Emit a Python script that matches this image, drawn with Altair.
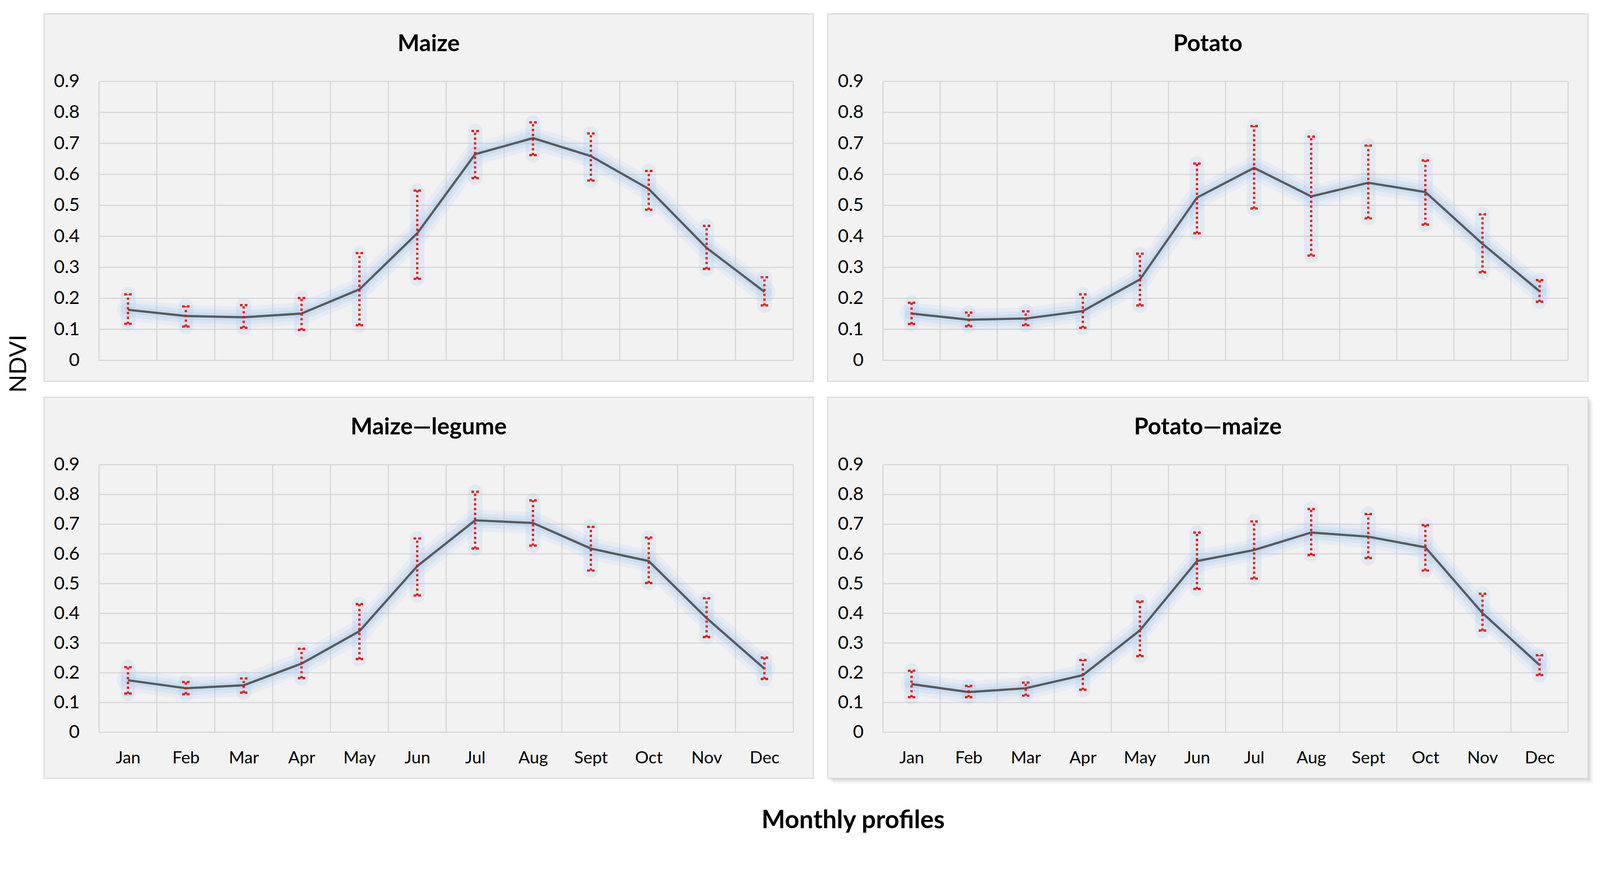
import json
import altair as alt
import pandas as pd

# ---------------- data ----------------
months = ["Jan", "Feb", "Mar", "Apr", "May", "Jun", "Jul", "Aug", "Sept", "Oct", "Nov", "Dec"]
y_ticks = [0, 0.1, 0.2, 0.3, 0.4, 0.5, 0.6, 0.7, 0.8, 0.9]
month_edges = [0, 1, 2, 3, 4, 5, 6, 7, 8, 9, 10, 11, 12]

maize_mean = [0.163, 0.143, 0.139, 0.151, 0.229, 0.410, 0.665, 0.717, 0.659, 0.553, 0.363, 0.221]
maize_low = [0.118, 0.109, 0.105, 0.098, 0.113, 0.263, 0.588, 0.662, 0.580, 0.486, 0.295, 0.177]
maize_high = [0.213, 0.174, 0.178, 0.201, 0.346, 0.548, 0.740, 0.768, 0.732, 0.611, 0.434, 0.268]

potato_mean = [0.151, 0.131, 0.135, 0.159, 0.261, 0.525, 0.621, 0.529, 0.573, 0.543, 0.376, 0.223]
potato_low = [0.117, 0.110, 0.113, 0.105, 0.177, 0.410, 0.490, 0.338, 0.458, 0.438, 0.284, 0.189]
potato_high = [0.186, 0.154, 0.158, 0.213, 0.344, 0.635, 0.756, 0.722, 0.693, 0.645, 0.471, 0.259]

ml_mean = [0.175, 0.148, 0.158, 0.231, 0.340, 0.559, 0.713, 0.704, 0.618, 0.576, 0.384, 0.214]
ml_low = [0.130, 0.128, 0.133, 0.182, 0.246, 0.460, 0.618, 0.628, 0.544, 0.502, 0.320, 0.179]
ml_high = [0.219, 0.169, 0.181, 0.281, 0.431, 0.652, 0.809, 0.780, 0.691, 0.655, 0.451, 0.251]

pm_mean = [0.162, 0.135, 0.148, 0.192, 0.343, 0.576, 0.613, 0.672, 0.658, 0.622, 0.401, 0.226]
pm_low = [0.118, 0.118, 0.123, 0.143, 0.256, 0.482, 0.517, 0.596, 0.586, 0.544, 0.342, 0.192]
pm_high = [0.207, 0.156, 0.167, 0.243, 0.440, 0.672, 0.709, 0.751, 0.734, 0.697, 0.466, 0.259]

y_title = "NDVI"
x_title = "Monthly profiles"

# ---------------- styling ----------------
FONT = "Lato"
RED = "#ff0000"
LINE = "#595959"
GLOW = "#a6cbef"
GRID = "#d6d6d6"
PANEL_BG = "#f2f2f2"
PANEL_EDGE = "#d9d9d9"

label_expr = json.dumps(months) + "[floor(datum.value)]"


def make_panel(title, mean, low, high, width, height, pad_l, pad_r, pad_t, pad_b,
               show_months, extra_text=None, shadow=False):
    df = pd.DataFrame({
        "pos": [i + 0.5 for i in range(len(months))],
        "month": months,
        "ndvi": mean,
        "low": low,
        "high": high,
    })
    xscale = alt.Scale(domain=[0, len(months)], nice=False, zero=False)
    yscale = alt.Scale(domain=[0, 0.9], nice=False, zero=True)
    if show_months:
        xaxis = alt.Axis(values=[i + 0.5 for i in range(len(months))], labelExpr=label_expr,
                         title=None, grid=False, domain=False, ticks=False, tickSize=0,
                         labelPadding=48, labelFont=FONT, labelFontSize=46, labelColor="#000000",
                         labelOverlap=False, labelFlush=False, zindex=1)
    else:
        xaxis = None
    yaxis = alt.Axis(values=y_ticks,
                     labelExpr="datum.value == 0 ? '0' : format(datum.value, '.1f')",
                     title=None, grid=False, domain=False, ticks=False, tickSize=0,
                     labelPadding=53, labelFont=FONT, labelFontSize=50, labelColor="#000000",
                     labelOverlap=False, labelFlush=False, zindex=1)

    deco = alt.Chart(alt.Data(values=[{"panel": title}]))
    layers = []
    if shadow:
        for off, op in [(14, 0.10), (9, 0.14), (5, 0.18)]:
            layers.append(deco.mark_rect(fill="#9a9a9a", opacity=op).encode(
                x=alt.value(-pad_l + off), x2=alt.value(width + pad_r + off),
                y=alt.value(-pad_t + off), y2=alt.value(height + pad_b + off)))
    box = deco.mark_rect(fill=PANEL_BG, stroke=PANEL_EDGE, strokeWidth=3).encode(
        x=alt.value(-pad_l), x2=alt.value(width + pad_r),
        y=alt.value(-pad_t), y2=alt.value(height + pad_b),
    )
    heading = deco.mark_text(font=FONT, fontSize=63, fontWeight="bold", color="#000000",
                             align="center", baseline="alphabetic").encode(
        text=alt.Text("panel:N"),
        x=alt.value(width / 2 + (pad_r - pad_l) / 2),
        y=alt.value(-82),
    )
    hgrid = alt.Chart(pd.DataFrame({"tick": y_ticks})).mark_rule(
        color=GRID, strokeWidth=3
    ).encode(y=alt.Y("tick:Q", scale=yscale, axis=yaxis))
    vgrid = alt.Chart(pd.DataFrame({"edge": month_edges})).mark_rule(
        color=GRID, strokeWidth=3
    ).encode(x=alt.X("edge:Q", scale=xscale, axis=xaxis))

    base = alt.Chart(df)
    X = alt.X("pos:Q", scale=xscale, axis=xaxis)
    Y = alt.Y("ndvi:Q", scale=yscale, axis=yaxis)
    YL = alt.Y("low:Q", scale=yscale, axis=yaxis)
    YH = alt.Y("high:Q", scale=yscale, axis=yaxis)

    glow_wide = base.mark_line(color=GLOW, strokeWidth=60, opacity=0.15,
                               strokeCap="round", strokeJoin="round").encode(x=X, y=Y)
    glow_mid = base.mark_line(color=GLOW, strokeWidth=38, opacity=0.22,
                              strokeCap="round", strokeJoin="round").encode(x=X, y=Y)
    glow_in = base.mark_line(color=GLOW, strokeWidth=20, opacity=0.3,
                             strokeCap="round", strokeJoin="round").encode(x=X, y=Y)
    glow_err = base.mark_rule(color=GLOW, strokeWidth=40, opacity=0.22,
                              strokeCap="round").encode(x=X, y=YL, y2="high:Q")
    line = base.mark_line(color=LINE, strokeWidth=6).encode(x=X, y=Y)
    err = base.mark_rule(color=RED, strokeWidth=6, strokeDash=[6, 7]).encode(x=X, y=YL, y2="high:Q")
    cap_shape = "M-1,0H-0.3M0.3,0H1"
    cap_lo = base.mark_point(shape=cap_shape, filled=False, stroke=RED, strokeWidth=6,
                             size=400, opacity=1).encode(x=X, y=YL)
    cap_hi = base.mark_point(shape=cap_shape, filled=False, stroke=RED, strokeWidth=6,
                             size=400, opacity=1).encode(x=X, y=YH)

    layers += [box, hgrid, vgrid, glow_wide, glow_mid, glow_in, glow_err,
               line, err, cap_lo, cap_hi, heading]

    if extra_text is not None:
        txt, tx, ty, ang, fw, fs, bl = extra_text
        layers.append(alt.Chart(alt.Data(values=[{"label": txt}])).mark_text(
            font=FONT, fontSize=fs, fontWeight=fw, color="#000000", align="center",
            baseline=bl, angle=ang).encode(
            text=alt.Text("label:N"), x=alt.value(tx), y=alt.value(ty)))

    return alt.layer(*layers).properties(width=width, height=height)


# panel geometry (plot area and the surrounding panel box, px)
p1 = make_panel("Maize", maize_mean, maize_low, maize_high, 1882, 756, 149, 54, 183, 57, False,
                extra_text=(y_title, -217, 765, 270, "normal", 64, "middle"))
p2 = make_panel("Potato", potato_mean, potato_low, potato_high, 1857, 756, 150, 54, 183, 57, False)
p3 = make_panel("Maize\u2014legume", ml_mean, ml_low, ml_high, 1882, 725, 149, 54, 183, 125, True,
                extra_text=(x_title, 2044, 985, 0, "bold", 68, "alphabetic"))
p4 = make_panel("Potato\u2014maize", pm_mean, pm_low, pm_high, 1857, 725, 150, 54, 183, 125, True,
                shadow=True)

chart = alt.concat(
    p1, p2, p3, p4, columns=2, bounds="flush",
    spacing={"row": 283, "column": 243},
).configure(
    background="white",
    padding={"left": 11, "top": -36, "right": 10, "bottom": -40},
).configure_view(stroke=None)

chart.save("out.html", embed_options={"renderer": "svg", "actions": False})
